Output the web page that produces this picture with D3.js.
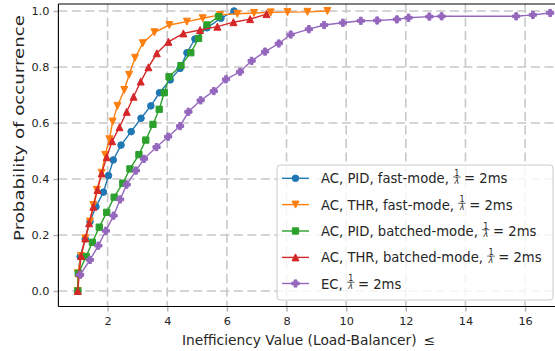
<!DOCTYPE html>
<html>
<head>
<meta charset="utf-8">
<script src="https://cdn.jsdelivr.net/npm/d3@7"></script>
<style>
  body { margin: 0; background: #fff; }
  svg { display: block; font-family: "DejaVu Sans", sans-serif; }
</style>
</head>
<body>
<svg id="chart" width="555" height="351"></svg>
<script>
// ---------------- data ----------------
const seriesNames = ["AC, PID, fast-mode,", "AC, THR, fast-mode,", "AC, PID, batched-mode,", "AC, THR, batched-mode,", "EC,"];
const seriesColors = ["#1f77b4", "#ff7f0e", "#2ca02c", "#d62728", "#9467bd"];
const seriesMarkers = ["circle", "triangleDown", "square", "triangleUp", "plus"];

const pidFastX = [1, 1.02, 1.08, 1.25, 1.41, 1.61, 1.86, 2.03, 2.19, 2.45, 2.79, 3.12, 3.45, 3.74, 4.1, 4.43, 4.66, 4.93, 5.33, 5.8, 6.24];
const pidFastY = [0, 0.063, 0.123, 0.186, 0.248, 0.301, 0.353, 0.412, 0.468, 0.521, 0.569, 0.617, 0.661, 0.708, 0.754, 0.795, 0.851, 0.9, 0.94, 0.974, 1.0];

const thrFastX = [1, 1.0, 1.11, 1.25, 1.41, 1.52, 1.64, 1.8, 1.92, 2.06, 2.17, 2.33, 2.56, 2.72, 2.92, 3.18, 3.57, 4.07, 4.66, 5.19, 5.77, 6.35, 6.91, 7.47, 8.03, 8.7, 9.37];
const thrFastY = [0, 0.063, 0.125, 0.188, 0.248, 0.307, 0.361, 0.422, 0.486, 0.542, 0.605, 0.661, 0.718, 0.772, 0.833, 0.885, 0.924, 0.95, 0.962, 0.974, 0.986, 0.99, 0.993, 0.995, 0.996, 0.997, 1.0];

const pidBatchX = [1, 1.02, 1.28, 1.49, 1.72, 1.97, 2.22, 2.51, 2.75, 3.05, 3.28, 3.52, 3.73, 3.9, 4.06, 4.46, 4.79, 5.05, 5.33, 5.72];
const pidBatchY = [0, 0.063, 0.123, 0.174, 0.228, 0.281, 0.335, 0.385, 0.436, 0.487, 0.539, 0.595, 0.649, 0.708, 0.765, 0.805, 0.851, 0.902, 0.95, 0.98];

const thrBatchX = [1, 1.05, 1.11, 1.25, 1.38, 1.52, 1.66, 1.8, 1.97, 2.15, 2.4, 2.64, 2.87, 3.11, 3.37, 3.65, 4.04, 4.54, 5.1, 5.68, 6.22, 6.78, 7.33];
const thrBatchY = [0, 0.063, 0.125, 0.188, 0.242, 0.301, 0.361, 0.42, 0.478, 0.535, 0.585, 0.64, 0.694, 0.748, 0.799, 0.849, 0.89, 0.92, 0.932, 0.944, 0.96, 0.971, 0.989];

const ecX = [1.08, 1.41, 1.69, 1.94, 2.2, 2.42, 2.64, 2.95, 3.22, 3.64, 4.03, 4.43, 4.71, 5.12, 5.56, 5.97, 6.44, 6.83, 7.28, 7.74, 8.14, 8.75, 9.26, 9.89, 10.49, 11.04, 11.7, 12.09, 12.79, 13.2, 15.7, 16.26, 16.84];
const ecY = [0.058, 0.111, 0.162, 0.215, 0.269, 0.327, 0.38, 0.43, 0.472, 0.514, 0.551, 0.589, 0.64, 0.681, 0.714, 0.756, 0.783, 0.822, 0.855, 0.884, 0.916, 0.935, 0.95, 0.958, 0.965, 0.966, 0.97, 0.976, 0.98, 0.981, 0.981, 0.986, 0.993];

const xTicks = [2, 4, 6, 8, 10, 12, 14, 16];
const yTicks = [0.0, 0.2, 0.4, 0.6, 0.8, 1.0];
const xLabel = "Inefficiency Value (Load-Balancer)\u2002\u2264";
const yLabel = "Probability of occurrence";

// ---------------- layout ----------------
const svg = d3.select("#chart");
const pLeft = 58.4, pRight = 560, pTop = 4, pBottom = 306.5;
const x = d3.scaleLinear().domain([0.35, 17.17]).range([pLeft, pRight]);
const y = d3.scaleLinear().domain([-0.0554, 1.025]).range([pBottom, pTop]);

const gridColor = "#c8c8c8";
const textColor = "#262626";

// grid
const grid = svg.append("g");
grid.selectAll(".gx").data(xTicks).join("line")
  .attr("x1", d => x(d)).attr("x2", d => x(d)).attr("y1", pTop).attr("y2", pBottom)
  .attr("stroke", gridColor).attr("stroke-width", 1.6).attr("stroke-dasharray", "9,4.5");
grid.selectAll(".gy").data(yTicks).join("line")
  .attr("x1", pLeft).attr("x2", pRight).attr("y1", d => y(d)).attr("y2", d => y(d))
  .attr("stroke", gridColor).attr("stroke-width", 1.6).attr("stroke-dasharray", "9,4.5");

// axes
const xAxis = svg.append("g").attr("transform", `translate(0,${pBottom})`)
  .call(d3.axisBottom(x).tickValues(xTicks).tickSize(5).tickPadding(5.5).tickFormat(d3.format("d")));
const yAxis = svg.append("g").attr("transform", `translate(${pLeft},0)`)
  .call(d3.axisLeft(y).tickValues(yTicks).tickSize(5).tickPadding(4).tickFormat(d3.format(".1f")));
[xAxis, yAxis].forEach(a => {
  a.select(".domain").remove();
  a.selectAll(".tick line").attr("stroke", "#b0b0b0").attr("stroke-width", 1.4);
  a.selectAll(".tick text").attr("fill", textColor).style("font-size", "11.3px").style("font-family", "DejaVu Sans");
});

// spines
svg.append("line").attr("x1", pLeft).attr("x2", pLeft).attr("y1", pTop).attr("y2", pBottom).attr("stroke", "#000").attr("stroke-width", 1.1);
svg.append("line").attr("x1", pLeft).attr("x2", pRight).attr("y1", pBottom).attr("y2", pBottom).attr("stroke", "#000").attr("stroke-width", 1.1);
svg.append("line").attr("x1", pLeft).attr("x2", pRight).attr("y1", pTop).attr("y2", pTop).attr("stroke", "#000").attr("stroke-width", 1.1);

// axis labels
svg.append("text").attr("x", 182).attr("y", 344.5)
  .attr("textLength", 253).attr("lengthAdjust", "spacingAndGlyphs")
  .attr("fill", textColor).style("font-size", "13.5px").text(xLabel);
svg.append("text").attr("transform", `translate(23.5,241) rotate(-90)`)
  .attr("textLength", 226).attr("lengthAdjust", "spacingAndGlyphs")
  .attr("fill", textColor).style("font-size", "14px").text(yLabel);

// markers
function markerPath(type, s) {
  const h = s / 2;
  if (type === "circle") return d3.symbol(d3.symbolCircle, Math.PI * h * h)();
  if (type === "square") return `M${-h},${-h}H${h}V${h}H${-h}Z`;
  if (type === "triangleUp") return `M0,${-h}L${h},${h}L${-h},${h}Z`;
  if (type === "triangleDown") return `M0,${h}L${h},${-h}L${-h},${-h}Z`;
  if (type === "plus") {
    const t = s / 3 / 2 * 1.15;
    return `M${-t},${-h}H${t}V${-t}H${h}V${t}H${t}V${h}H${-t}V${t}H${-h}V${-t}H${-t}Z`;
  }
}
const markerSize = [6.6, 7.0, 6.3, 7.0, 7.2];

const allX = [pidFastX, thrFastX, pidBatchX, thrBatchX, ecX];
const allY = [pidFastY, thrFastY, pidBatchY, thrBatchY, ecY];

const line = d3.line().x(d => x(d[0])).y(d => y(d[1]));
const plot = svg.append("g");
allX.forEach((xs, i) => {
  const pts = xs.map((v, j) => [v, allY[i][j]]);
  const g = plot.append("g");
  g.append("path").attr("d", line(pts)).attr("fill", "none")
    .attr("stroke", seriesColors[i]).attr("stroke-width", 1.4);
  g.selectAll("path.m").data(pts).join("path").attr("class", "m")
    .attr("transform", d => `translate(${x(d[0])},${y(d[1])})`)
    .attr("d", markerPath(seriesMarkers[i], markerSize[i]))
    .attr("fill", seriesColors[i]).attr("stroke", seriesColors[i]).attr("stroke-width", 1);
});

// legend
const lg = svg.append("g");
lg.append("rect").attr("x", 277).attr("y", 165).attr("width", 276).attr("height", 135)
  .attr("rx", 3).attr("fill", "#fff").attr("fill-opacity", 0.8).attr("stroke", "#cccccc").attr("stroke-width", 1);
const rowY = [178.3, 204.6, 231, 257.4, 283.5];
const fs = 13.2;
seriesNames.forEach((name, i) => {
  const cy = rowY[i];
  const row = lg.append("g");
  row.append("line").attr("x1", 282).attr("x2", 309).attr("y1", cy).attr("y2", cy)
    .attr("stroke", seriesColors[i]).attr("stroke-width", 1.4);
  row.append("path").attr("transform", `translate(295.5,${cy})`)
    .attr("d", markerPath(seriesMarkers[i], markerSize[i]))
    .attr("fill", seriesColors[i]).attr("stroke", seriesColors[i]).attr("stroke-width", 1);
  const t1 = row.append("text").attr("x", 321).attr("y", cy + 5).attr("fill", textColor)
    .style("font-size", fs + "px").text(name);
  const w = t1.node().getComputedTextLength();
  const fx = 321 + w + fs * 0.318;
  row.append("text").attr("x", fx + 3.8).attr("y", cy - 2.3).attr("text-anchor", "middle")
    .attr("fill", textColor).style("font-size", "8px").text("1");
  row.append("line").attr("x1", fx).attr("x2", fx + 7.6).attr("y1", cy - 1.3).attr("y2", cy - 1.3)
    .attr("stroke", textColor).attr("stroke-width", 0.7);
  row.append("text").attr("x", fx + 3.8).attr("y", cy + 5.8).attr("text-anchor", "middle")
    .attr("fill", textColor).style("font-size", "8px").style("font-style", "italic").text("λ");
  row.append("text").attr("x", fx + 11).attr("y", cy + 5).attr("fill", textColor)
    .style("font-size", fs + "px").text("= 2ms");
});
</script>
</body>
</html>
